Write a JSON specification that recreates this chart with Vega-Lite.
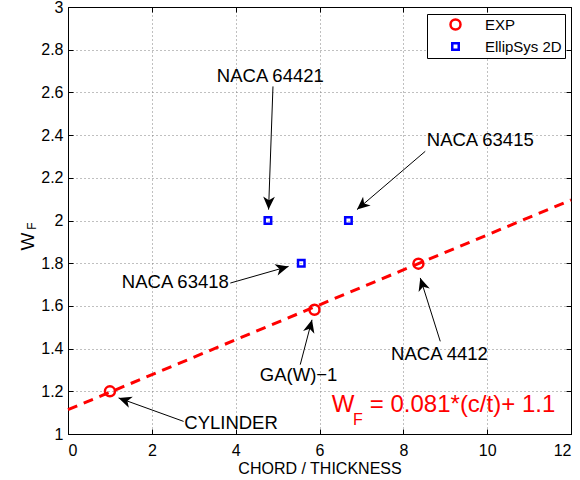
{
  "$schema": "https://vega.github.io/schema/vega-lite/v6.json",
  "width": 503,
  "height": 427,
  "autosize": {"type": "none"},
  "padding": {"left": 68, "top": 7, "right": 9, "bottom": 46},
  "background": "white",
  "config": {
    "font": "Liberation Sans",
    "view": {"stroke": "black", "strokeWidth": 1},
    "axis": {
      "domainColor": "black",
      "labelColor": "black",
      "labelFontSize": 16,
      "titleColor": "black",
      "titleFontSize": 16,
      "titleFontWeight": "normal",
      "tickColor": "black",
      "gridColor": "#808080",
      "gridDash": [1, 3],
      "gridWidth": 1,
      "gridOpacity": 1
    }
  },
  "resolve": {"axis": {"x": "independent", "y": "independent"}},
  "layer": [
    {
      "data": {"values": [{"ct": 0, "wf": 1.114}, {"ct": 12, "wf": 2.096}]},
      "mark": {"type": "line", "color": "#ff0000", "strokeWidth": 3, "strokeDash": [10, 7]},
      "encoding": {
        "x": {"field": "ct", "type": "quantitative", "scale": {"domain": [0, 12], "nice": false},
          "axis": {"title": "CHORD / THICKNESS", "values": [0, 2, 4, 6, 8, 10, 12], "grid": true, "ticks": true, "tickSize": -5, "labelPadding": 13, "titlePadding": 2}},
        "y": {"field": "wf", "type": "quantitative", "scale": {"domain": [1, 3], "nice": false, "zero": false},
          "axis": {"title": null, "values": [1, 1.2, 1.4, 1.6, 1.8, 2, 2.2, 2.4, 2.6, 2.8, 3], "format": "~g", "grid": true, "ticks": true, "tickSize": -5, "labelPadding": 10}}
      }
    },
    {
      "data": {"values": [{"ct": 0, "wf": 1}]},
      "mark": {"type": "point", "opacity": 0},
      "encoding": {
        "x": {"field": "ct", "type": "quantitative",
          "axis": {"orient": "top", "title": null, "values": [0, 2, 4, 6, 8, 10, 12], "labels": false, "grid": false, "ticks": true, "tickSize": -5}},
        "y": {"field": "wf", "type": "quantitative",
          "axis": {"orient": "right", "title": null, "values": [1, 1.2, 1.4, 1.6, 1.8, 2, 2.2, 2.4, 2.6, 2.8, 3], "labels": false, "grid": false, "ticks": true, "tickSize": -5}}
      }
    },
    {
      "data": {"values": [
        {"ct": 1.0, "wf": 1.2, "series": "EXP"},
        {"ct": 5.88, "wf": 1.582, "series": "EXP"},
        {"ct": 8.36, "wf": 1.798, "series": "EXP"},
        {"ct": 4.77, "wf": 2.0, "series": "EllipSys 2D"},
        {"ct": 6.69, "wf": 2.0, "series": "EllipSys 2D"},
        {"ct": 5.565, "wf": 1.8, "series": "EllipSys 2D"}
      ]},
      "mark": {"type": "point", "filled": false, "strokeWidth": 2.5, "opacity": 1},
      "encoding": {
        "x": {"field": "ct", "type": "quantitative", "axis": null},
        "y": {"field": "wf", "type": "quantitative", "axis": null},
        "color": {"field": "series", "type": "nominal",
          "scale": {"domain": ["EXP", "EllipSys 2D"], "range": ["#ff0000", "#0000ff"]},
          "legend": {"title": null, "orient": "none", "legendX": 359, "legendY": 7,
            "strokeColor": "black", "fillColor": "white", "cornerRadius": 0,
            "padding": 3, "symbolOffset": 18, "labelOffset": 22, "rowPadding": 3,
            "labelFontSize": 15, "labelColor": "black", "symbolStrokeWidth": 2.5}},
        "shape": {"field": "series", "type": "nominal",
          "scale": {"domain": ["EXP", "EllipSys 2D"], "range": ["circle", "square"]}},
        "size": {"field": "series", "type": "nominal",
          "scale": {"domain": ["EXP", "EllipSys 2D"], "range": [100, 42]}}
      }
    },
    {
      "data": {"name": "arrows", "values": [
        {"label": "NACA 64421", "sx": 4.89, "sy": 2.628, "ex": 4.785, "ey": 2.051, "angle": 182, "tx": 4.827, "ty": 2.678},
        {"label": "NACA 63415", "sx": 8.523, "sy": 2.324, "ex": 6.894, "ey": 2.051, "angle": 229.5, "tx": 9.835, "ty": 2.376},
        {"label": "NACA 63418", "sx": 3.872, "sy": 1.707, "ex": 5.262, "ey": 1.785, "angle": 74.1, "tx": 2.56, "ty": 1.711},
        {"label": "GA(W)−1", "sx": 5.541, "sy": 1.325, "ex": 5.821, "ey": 1.535, "angle": 14.6, "tx": 5.501, "ty": 1.275},
        {"label": "NACA 4412", "sx": 8.881, "sy": 1.434, "ex": 8.404, "ey": 1.731, "angle": 342.5, "tx": 8.862, "ty": 1.376},
        {"label": "CYLINDER", "sx": 2.758, "sy": 1.059, "ex": 1.207, "ey": 1.169, "angle": 289.8, "tx": 3.89, "ty": 1.053}
      ]},
      "layer": [
        {
          "mark": {"type": "rule", "color": "black", "strokeWidth": 1},
          "encoding": {
            "x": {"field": "sx", "type": "quantitative", "axis": null},
            "y": {"field": "sy", "type": "quantitative", "axis": null},
            "x2": {"field": "ex"},
            "y2": {"field": "ey"}
          }
        },
        {
          "mark": {"type": "point", "shape": "M0,0L-0.45,1L0,0.72L0.45,1Z", "filled": true, "color": "black", "size": 676, "opacity": 1, "strokeWidth": 0},
          "encoding": {
            "x": {"field": "ex", "type": "quantitative", "axis": null},
            "y": {"field": "ey", "type": "quantitative", "axis": null},
            "angle": {"field": "angle", "type": "quantitative", "scale": null}
          }
        },
        {
          "mark": {"type": "text", "fontSize": 18.5, "color": "black", "align": "center", "baseline": "middle"},
          "encoding": {
            "x": {"field": "tx", "type": "quantitative", "axis": null},
            "y": {"field": "ty", "type": "quantitative", "axis": null},
            "text": {"field": "label"}
          }
        }
      ]
    },
    {
      "data": {"values": [
        {"t": "W", "ct": 6.29, "wf": 1.101},
        {"t": "= 0.081*(c/t)+ 1.1", "ct": 7.2, "wf": 1.101}
      ]},
      "mark": {"type": "text", "fontSize": 24, "color": "#ff0000", "align": "left", "baseline": "alphabetic"},
      "encoding": {
        "x": {"field": "ct", "type": "quantitative", "axis": null},
        "y": {"field": "wf", "type": "quantitative", "axis": null},
        "text": {"field": "t"}
      }
    },
    {
      "data": {"values": [{"t": "F", "ct": 6.8, "wf": 1.0436}]},
      "mark": {"type": "text", "fontSize": 16, "color": "#ff0000", "align": "left", "baseline": "alphabetic"},
      "encoding": {
        "x": {"field": "ct", "type": "quantitative", "axis": null},
        "y": {"field": "wf", "type": "quantitative", "axis": null},
        "text": {"field": "t"}
      }
    },
    {
      "data": {"values": [{"t": "W", "ct": -0.821, "wf": 1.902}]},
      "mark": {"type": "text", "fontSize": 19, "color": "black", "align": "center", "baseline": "alphabetic", "angle": 270},
      "encoding": {
        "x": {"field": "ct", "type": "quantitative", "axis": null},
        "y": {"field": "wf", "type": "quantitative", "axis": null},
        "text": {"field": "t"}
      }
    },
    {
      "data": {"values": [{"t": "F", "ct": -0.77, "wf": 1.974}]},
      "mark": {"type": "text", "fontSize": 12, "color": "black", "align": "center", "baseline": "alphabetic", "angle": 270},
      "encoding": {
        "x": {"field": "ct", "type": "quantitative", "axis": null},
        "y": {"field": "wf", "type": "quantitative", "axis": null},
        "text": {"field": "t"}
      }
    }
  ]
}
